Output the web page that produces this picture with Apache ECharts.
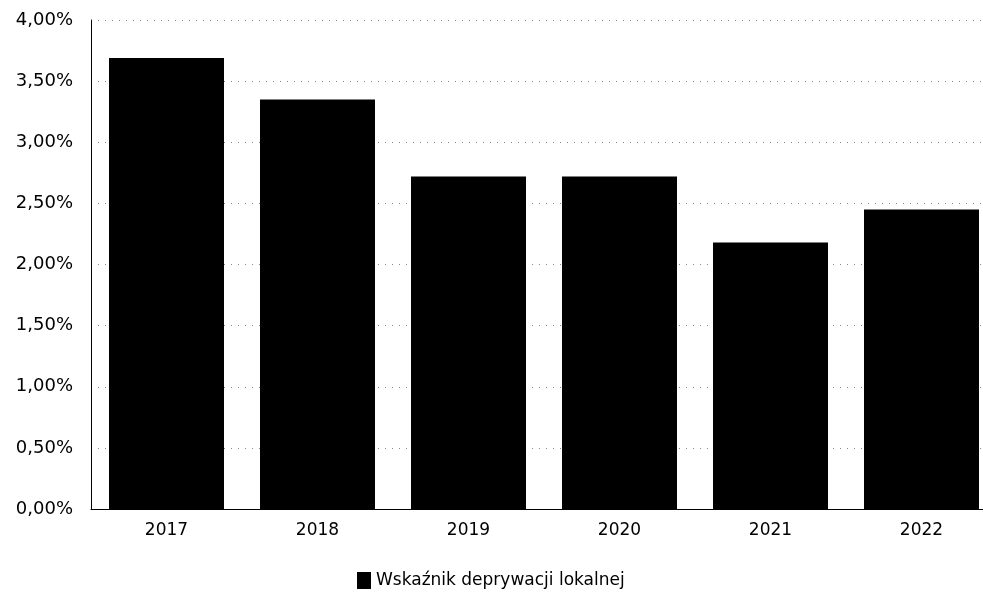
<!DOCTYPE html>
<html><head><meta charset="utf-8">
<script src="https://cdn.jsdelivr.net/npm/echarts@6/dist/echarts.min.js"></script>
<style>html,body{margin:0;padding:0;background:#fff;overflow:hidden;width:983px;height:592px}#c{width:1000px;height:592px}</style>
</head><body><div id="c"></div>
<script>
const categories = ['2017','2018','2019','2020','2021','2022'];
const values = [3.69, 3.35, 2.72, 2.72, 2.18, 2.45];
const seriesName = 'Wskaźnik deprywacji lokalnej';
const chart = echarts.init(document.getElementById('c'));
chart.setOption({
  animation: false,
  grid: { left: 91, top: 20, width: 906, height: 489 },
  legend: {
    data: [seriesName], top: 567, left: 352, itemWidth: 14, itemHeight: 17, itemGap: 5,
    icon: 'rect',
    textStyle: { fontFamily: 'DejaVu Sans', fontSize: 17, color: '#000' }
  },
  xAxis: {
    type: 'category', data: categories,
    axisLine: { lineStyle: { color: '#000', width: 1 } },
    axisTick: { show: false },
    axisLabel: { fontFamily: 'DejaVu Sans', fontSize: 17, color: '#000', margin: 13 }
  },
  yAxis: {
    type: 'value', min: 0, max: 4, interval: 0.5,
    axisLine: { show: true, lineStyle: { color: '#000', width: 1 } },
    axisTick: { show: false },
    splitLine: { lineStyle: { color: '#888', type: [1, 6], width: 1 } },
    axisLabel: { fontFamily: 'DejaVu Sans', fontSize: 18, color: '#000', margin: 18,
      formatter: v => v.toFixed(2).replace('.', ',') + '%' }
  },
  series: [{
    name: seriesName, type: 'bar', data: values, barWidth: 115,
    itemStyle: { color: '#000' }
  }]
});
</script></body></html>
